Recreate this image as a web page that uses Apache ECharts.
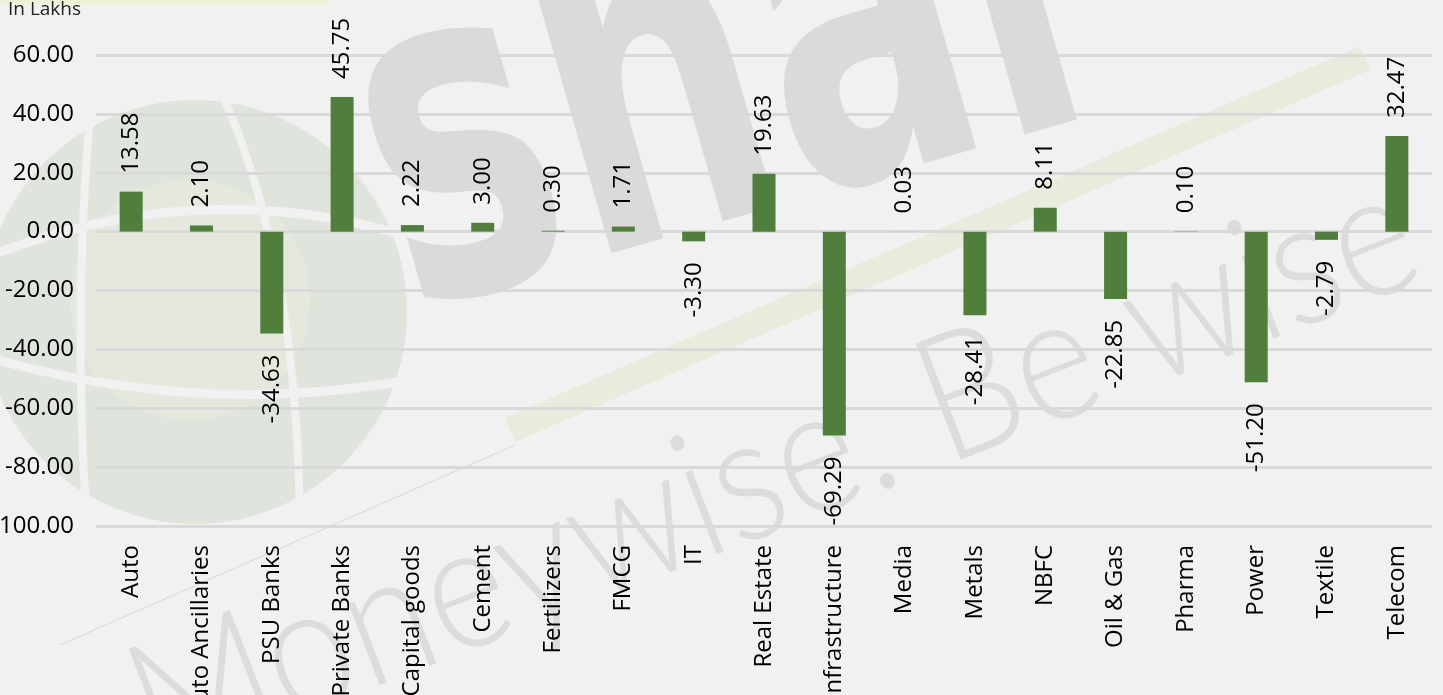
<!DOCTYPE html>
<html>
<head>
<meta charset="utf-8">
<script src="https://cdn.jsdelivr.net/npm/echarts@6/dist/echarts.min.js"></script>
<style>
html,body{margin:0;padding:0;background:#f1f1f1;}
#chart{width:1443px;height:695px;}
</style>
</head>
<body>
<div id="chart"></div>
<script>
const categories = ["Auto","Auto Ancillaries","PSU Banks","Private Banks","Capital goods","Cement","Fertilizers","FMCG","IT","Real Estate","Infrastructure","Media","Metals","NBFC","Oil & Gas","Pharma","Power","Textile","Telecom"];
const values = [13.58, 2.10, -34.63, 45.75, 2.22, 3.00, 0.30, 1.71, -3.30, 19.63, -69.29, 0.03, -28.41, 8.11, -22.85, 0.10, -51.20, -2.79, 32.47];
const unitLabel = "In Lakhs";
const watermarkText = "Moneywise. Be wise";
const logoText = "shar";

const FONT = "Open Sans";
const barData = values.map(v => ({
  value: v,
  label: v >= 0
    ? {position: 'top', align: 'left', verticalAlign: 'middle', distance: 18}
    : {position: 'bottom', align: 'right', verticalAlign: 'middle', distance: 21}
}));

const BG = '#f1f1f1';
const chart = echarts.init(document.getElementById('chart'), null, {renderer: 'canvas'});
chart.setOption({
  backgroundColor: BG,
  animation: false,
  graphic: [
    {type: 'rect', z: -20, silent: true, shape: {x: 0, y: 0, width: 330, height: 4}, style: {fill: '#eef3d8'}},
    {type: 'circle', z: -20, silent: true, shape: {cx: 195, cy: 312, r: 212}, style: {fill: '#dfe4dc'}},
    {type: 'circle', z: -20, silent: true, shape: {cx: 190, cy: 300, r: 120}, style: {fill: '#e4e8dd'}},
    {type: 'bezierCurve', z: -19, silent: true, shape: {x1: 95, y1: 60, x2: 88, y2: 540, cpx1: 70, cpy1: 300}, style: {stroke: BG, lineWidth: 8, fill: null}},
    {type: 'bezierCurve', z: -19, silent: true, shape: {x1: 218, y1: 85, x2: 300, y2: 540, cpx1: 300, cpy1: 260}, style: {stroke: BG, lineWidth: 8, fill: null}},
    {type: 'bezierCurve', z: -19, silent: true, shape: {x1: -20, y1: 260, x2: 420, y2: 240, cpx1: 200, cpy1: 170}, style: {stroke: BG, lineWidth: 9, fill: null}},
    {type: 'bezierCurve', z: -19, silent: true, shape: {x1: -20, y1: 355, x2: 420, y2: 378, cpx1: 200, cpy1: 420}, style: {stroke: BG, lineWidth: 9, fill: null}},
    {type: 'line', z: -19, silent: true, shape: {x1: 510, y1: 430, x2: 1365, y2: 58}, style: {stroke: '#e8ecdc', lineWidth: 26}},
    {type: 'line', z: -19, silent: true, shape: {x1: 60, y1: 645, x2: 515, y2: 445}, style: {stroke: '#d8d8d8', lineWidth: 1}},
    {type: 'text', z: -18, silent: true, x: 440, y: 420, rotation: 0.28, scaleX: 0.66,
      style: {text: logoText, fontSize: 470, fontWeight: 'bold', fontFamily: 'DejaVu Sans', fill: '#dadada', verticalAlign: 'bottom'}},
    {type: 'text', z: -18, silent: true, x: 170, y: 800, rotation: 0.37, scaleX: 0.88,
      style: {text: watermarkText, fontSize: 176, fontWeight: 300, fontFamily: 'Lato', fill: '#dcdcdc', verticalAlign: 'bottom'}},
    {type: 'text', left: 8, top: 0,
      style: {text: unitLabel, font: '19px "Open Sans"', fill: '#222'}}
  ],
  grid: {left: 96, right: 11, top: 55, bottom: 169, containLabel: false, outerBoundsMode: 'none'},
  xAxis: {
    type: 'category',
    data: categories,
    axisLine: {show: false},
    axisTick: {show: false},
    axisLabel: {rotate: 90, interval: 0, margin: 19, fontFamily: FONT, fontSize: 24, color: '#000'}
  },
  yAxis: {
    type: 'value',
    min: -100, max: 60, interval: 20,
    axisLine: {show: false},
    axisTick: {show: false},
    axisLabel: {formatter: v => v.toFixed(2), margin: 22, fontFamily: FONT, fontSize: 24, color: '#000'},
    splitLine: {lineStyle: {color: '#d9d9d9', width: 3}}
  },
  series: [{
    type: 'bar',
    data: barData,
    barWidth: 23,
    itemStyle: {color: '#507e3d'},
    label: {show: true, rotate: 90, fontFamily: FONT, fontSize: 24, color: '#000', formatter: p => p.value.toFixed(2)}
  }]
});
</script>
</body>
</html>
